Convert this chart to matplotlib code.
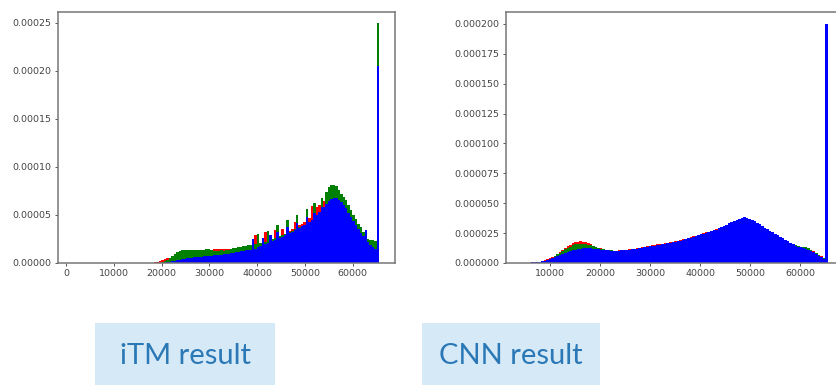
import numpy as np
import matplotlib
matplotlib.use("Agg")
import matplotlib.pyplot as plt
import matplotlib.ticker as mticker
from matplotlib.patches import Rectangle

# 128 bins of width 512 over the 16-bit range; heights are densities in units of 1e-6
bin_edges = np.arange(0, 65537, 512)

# iTM result (first 34 bins are empty)
itm_red = [0] * 34 + [
    0, 0, 1, 1, 2, 3,
    4, 5, 5, 6,
    7, 8, 9, 10,
    10, 11, 11, 12, 12, 12,
    12, 13, 13, 14, 14, 14,
    15, 15, 15, 15, 15, 15, 15, 14,
    15, 15, 16, 16, 16, 17,
    17, 18, 18, 29, 19, 20,
    21, 32, 22, 23, 24, 34,
    26, 28, 35, 30, 31, 33,
    35, 43, 37, 39, 41, 43,
    45, 47, 59, 59, 58, 60,
    62, 64, 67, 70, 72, 73,
    74, 70, 66, 62, 58, 54,
    49, 44, 40, 36, 32, 28,
    25, 22, 20, 19, 18, 200,
]
itm_green = [0] * 34 + [
    0, 0, 0, 0, 0, 1,
    2, 3, 5, 7,
    9, 11, 12, 13,
    14, 14, 13, 14, 13, 13,
    13, 14, 14, 15, 15, 14,
    12, 12, 12, 13, 12, 13, 14, 15,
    16, 16, 17, 17, 18, 18,
    19, 19, 20, 20, 30, 21,
    22, 22, 33, 24, 25, 26,
    40, 28, 29, 30, 45, 32,
    33, 35, 50, 37, 38, 40,
    56, 42, 44, 62, 48, 50,
    68, 58, 74, 79, 81, 81,
    80, 76, 72, 69, 65, 60,
    55, 50, 46, 41, 37, 32,
    28, 25, 24, 24, 23, 250,
]
itm_blue = [0] * 34 + [
    0, 0, 0, 0, 0, 0,
    0, 1, 1, 2,
    2, 3, 3, 4,
    4, 5, 5, 5, 6, 6,
    6, 6, 7, 7, 7, 7,
    8, 8, 8, 8, 9, 9, 9, 10,
    10, 11, 11, 12, 12, 13,
    13, 14, 25, 15, 17, 18,
    26, 20, 21, 29, 23, 24,
    32, 26, 27, 29, 37, 31,
    32, 34, 42, 36, 38, 40,
    48, 43, 45, 52, 50, 53,
    58, 58, 61, 64, 67, 68,
    68, 66, 63, 60, 57, 52,
    48, 44, 40, 35, 31, 28,
    34, 22, 19, 17, 15, 205,
]

# CNN result
cnn_red = [
    0, 0, 0, 0, 0, 0, 0, 0,
    0.2, 0.3, 0.3, 0.4, 0.5, 0.6, 0.8, 1.0,
    1.5, 2.1, 3.0, 3.9, 4.8, 6.2, 7.8, 9.4,
    11.0, 12.6, 14.1, 15.4, 16.5, 17.3, 17.8, 18.0,
    17.8, 17.2, 16.4, 15.5, 14.6, 13.7, 12.9, 12.2,
    11.6, 11.1, 10.7, 10.5, 10.4, 10.4, 10.5, 10.7,
    10.9, 11.2, 11.5, 11.8, 12.1, 12.5, 12.8, 13.2,
    13.6, 14.0, 14.4, 14.8, 15.1, 15.5, 15.8, 16.2,
    16.6, 17.0, 17.4, 17.8, 18.3, 18.7, 19.2, 19.8,
    20.4, 20.9, 21.5, 22.2, 22.9, 23.6, 24.3, 24.9,
    25.6, 26.3, 27.0, 27.6, 28.4, 29.2, 30.0, 31.0,
    32.0, 33.1, 34.2, 35.2, 36.1, 36.9, 37.5, 37.9,
    37.7, 37.1, 36.1, 34.9, 33.6, 32.3, 30.9, 29.6,
    28.3, 27.0, 25.7, 24.4, 23.1, 21.8, 20.5, 19.2,
    18.1, 17.0, 16.0, 15.1, 14.4, 13.8, 13.6, 13.4,
    12.6, 11.2, 9.8, 8.4, 7.0, 5.8, 4.6, 3.0,
]
cnn_green = [
    0, 0, 0, 0, 0, 0, 0, 0,
    0.2, 0.3, 0.3, 0.4, 0.5, 0.6, 0.8, 1.0,
    1.4, 2.0, 2.8, 3.6, 4.5, 5.8, 7.2, 8.6,
    10.0, 11.4, 12.7, 13.8, 14.8, 15.5, 16.0, 16.2,
    16.2, 15.9, 15.4, 14.8, 14.1, 13.4, 12.7, 12.1,
    11.5, 11.0, 10.7, 10.5, 10.3, 10.3, 10.4, 10.5,
    10.7, 10.9, 11.2, 11.5, 11.8, 12.1, 12.4, 12.8,
    13.2, 13.6, 14.0, 14.3, 14.6, 15.0, 15.3, 15.7,
    16.1, 16.5, 16.9, 17.3, 17.8, 18.3, 18.8, 19.4,
    20.0, 20.5, 21.2, 21.9, 22.6, 23.3, 24.0, 24.6,
    25.2, 25.8, 26.5, 27.2, 28.0, 28.9, 29.9, 31.0,
    32.1, 33.2, 34.3, 35.3, 36.2, 37.0, 37.6, 38.0,
    37.8, 37.2, 36.2, 35.0, 33.7, 32.4, 31.0, 29.7,
    28.4, 27.1, 25.8, 24.5, 23.2, 21.9, 20.6, 19.3,
    18.0, 16.9, 15.9, 15.0, 14.3, 13.7, 13.8, 13.5,
    12.3, 10.8, 9.4, 8.0, 6.5, 5.2, 4.0, 3.0,
]
cnn_blue = [
    0, 0, 0, 0, 0, 0, 0, 0,
    0.2, 0.3, 0.3, 0.4, 0.5, 0.6, 0.8, 1.0,
    1.3, 1.8, 2.5, 3.2, 4.0, 4.8, 5.7, 6.6,
    7.5, 8.4, 9.2, 10.0, 10.7, 11.2, 11.6, 12.0,
    12.2, 12.3, 12.3, 12.2, 12.0, 11.8, 11.5, 11.2,
    10.9, 10.7, 10.5, 10.4, 10.3, 10.3, 10.4, 10.5,
    10.7, 10.9, 11.2, 11.5, 11.8, 12.1, 12.4, 12.8,
    13.2, 13.6, 14.0, 14.3, 14.6, 15.0, 15.3, 15.7,
    16.1, 16.5, 16.9, 17.3, 17.8, 18.3, 18.8, 19.4,
    20.0, 20.5, 21.2, 21.9, 22.6, 23.3, 24.0, 24.6,
    25.2, 25.8, 26.5, 27.2, 28.0, 28.9, 29.9, 31.0,
    32.1, 33.2, 34.3, 35.3, 36.2, 37.0, 37.6, 38.4,
    37.5, 37.2, 36.2, 35.0, 33.7, 32.4, 31.0, 29.7,
    28.4, 27.1, 25.8, 24.5, 23.2, 21.9, 20.6, 19.3,
    18.0, 16.8, 15.6, 14.6, 13.7, 13.0, 12.4, 11.8,
    11.0, 10.0, 8.8, 7.5, 6.0, 4.8, 3.6, 200,
]

itm_xticks = [0, 10000, 20000, 30000, 40000, 50000, 60000]
itm_yticks = [0, 0.00005, 0.0001, 0.00015, 0.0002, 0.00025]
cnn_xticks = [10000, 20000, 30000, 40000, 50000, 60000]
cnn_yticks = [0, 0.000025, 0.00005, 0.000075, 0.0001, 0.000125, 0.00015, 0.000175, 0.0002]
captions = ["iTM result", "CNN result"]


def draw_hist(ax, red, green, blue):
    centers = (bin_edges[:-1] + bin_edges[1:]) / 2
    for vals, col in [(red, "r"), (green, "g"), (blue, "b")]:
        ax.hist(centers, bins=bin_edges, weights=np.array(vals) * 1e-6,
                color=col, histtype="stepfilled", linewidth=0)
    for s in ax.spines.values():
        s.set_color("#777777")
        s.set_linewidth(1.1)
    ax.tick_params(labelsize=6.8, length=2.5, width=0.7, pad=2,
                   colors="#555555", labelcolor="#444444")


fig = plt.figure(figsize=(8.36, 3.85), dpi=100)

ax1 = fig.add_axes([58 / 836, 1 - 263 / 385, 337 / 836, 251 / 385])
draw_hist(ax1, itm_red, itm_green, itm_blue)
ax1.set_xlim(-1670, 68830)
ax1.set_ylim(0, 0.000261)
ax1.set_xticks(itm_xticks)
ax1.set_yticks(itm_yticks)
ax1.yaxis.set_major_formatter(mticker.FormatStrFormatter("%.5f"))

ax2 = fig.add_axes([506 / 836, 1 - 263 / 385, 338 / 836, 251 / 385])
draw_hist(ax2, cnn_red, cnn_green, cnn_blue)
ax2.set_xlim(1200, 68770)
ax2.set_ylim(0, 0.00021)
ax2.set_xticks(cnn_xticks)
ax2.set_yticks(cnn_yticks)
ax2.yaxis.set_major_formatter(mticker.FormatStrFormatter("%.6f"))

# caption boxes
for (x0, x1), txt in zip([(95, 275), (422, 600)], captions):
    fig.patches.append(Rectangle((x0 / 836, 0), (x1 - x0) / 836, 62 / 385,
                                 transform=fig.transFigure,
                                 facecolor="#d6e9f7", edgecolor="none"))
    fig.text((x0 + x1) / 2 / 836, 1 - 356 / 385, txt, ha="center", va="center",
             fontsize=21, color="#2b78b6", family="Lato")

fig.savefig("out.png", dpi=100)
